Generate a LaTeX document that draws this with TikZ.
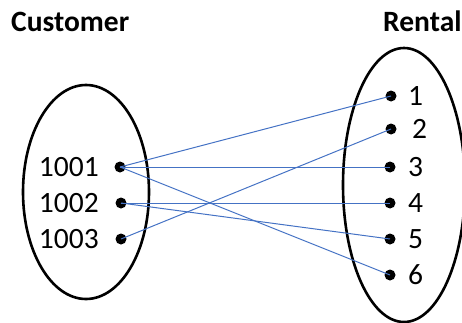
\documentclass[tikz,border=0pt]{standalone}
\usepackage{fontspec}
\setmainfont{Carlito}
\definecolor{linkblue}{RGB}{68,114,196}
\begin{document}
\begin{tikzpicture}[x=1pt,y=1pt,
  dot/.style={circle, fill=black, inner sep=0pt, minimum size=11pt},
  map/.style={draw=linkblue, line width=1pt},
  txt/.style={font=\fontsize{29.5}{35}\selectfont, inner sep=0pt}]
\useasboundingbox (0,0) rectangle (462,322);
\clip (0,0) rectangle (462,322);
% titles
\node[txt, font=\fontsize{29.5}{35}\selectfont\bfseries, anchor=base west] (cust) at (11,290) {Customer};
\node[txt, font=\fontsize{29.5}{35}\selectfont\bfseries, anchor=base west] (rent) at (383,290) {Rental};
% the two sets
\draw[line width=2.6pt] (86,130) ellipse [x radius=63, y radius=107];
\draw[line width=2.6pt] (404,137) ellipse [x radius=61, y radius=137];
% customer ids
\node[dot] (c1) at (120,155) {};
\node[dot] (c2) at (121,119) {};
\node[dot] (c3) at (121,83) {};
\node[txt, anchor=east] (l1) at (99,155) {1001};
\node[txt, anchor=east] (l2) at (99,119) {1002};
\node[txt, anchor=east] (l3) at (99,83) {1003};
% rentals
\node[dot] (r1) at (391,226) {};
\node[dot] (r2) at (391,193) {};
\node[dot] (r3) at (390,155) {};
\node[dot] (r4) at (390,119) {};
\node[dot] (r5) at (390,83) {};
\node[dot] (r6) at (390,47) {};
\node[txt, anchor=west] (n1) at (408,226) {1};
\node[txt, anchor=west] (n2) at (412,193) {2};
\node[txt, anchor=west] (n3) at (408,155) {3};
\node[txt, anchor=west] (n4) at (408,119) {4};
\node[txt, anchor=west] (n5) at (408,83) {5};
\node[txt, anchor=west] (n6) at (408,47) {6};
% who rented what
\draw[map] (c1.center) -- (r1.center);
\draw[map] (c1.center) -- (r3.center);
\draw[map] (c1.center) -- (r6.center);
\draw[map] (c2.center) -- (r4.center);
\draw[map] (c2.center) -- (r5.center);
\draw[map] (c3.center) -- (r2.center);
\end{tikzpicture}
\end{document}
